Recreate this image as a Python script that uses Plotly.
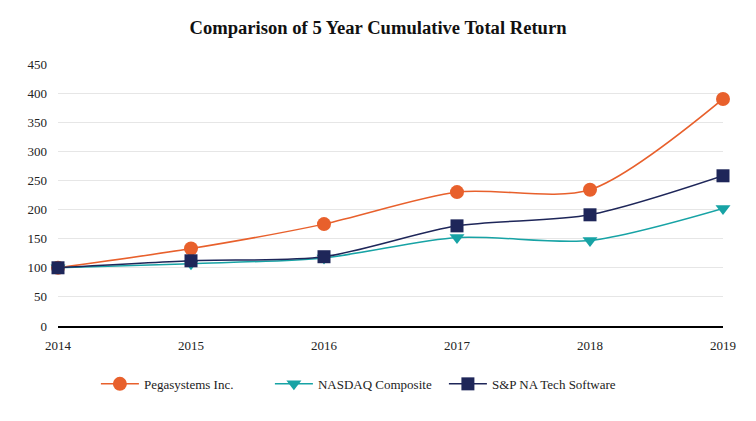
import plotly.graph_objects as go

years = [2014, 2015, 2016, 2017, 2018, 2019]
pega = [100, 133, 175, 230, 234, 390]
nasdaq = [100, 107, 117, 152, 147, 202]
sp_tech = [100, 112, 119, 172, 191, 258]
year_labels = ["2014", "2015", "2016", "2017", "2018", "2019"]

SERIF = "Liberation Serif, Times New Roman, serif"

fig = go.Figure()
series = [
    ("Pegasystems Inc.", pega, "#E8602C", "circle", 14),
    ("NASDAQ Composite", nasdaq, "#17A3A5", "triangle-down", 13),
    ("S&P NA Tech Software", sp_tech, "#1E2659", "square", 13),
]
for name, vals, col, sym, sz in series:
    fig.add_trace(go.Scatter(
        x=years, y=vals, name=name, mode="lines+markers",
        line=dict(color=col, width=1.5, shape="spline", smoothing=0.8),
        marker=dict(color=col, symbol=sym, size=sz),
        cliponaxis=False,
    ))

fig.update_layout(
    width=756, height=421,
    margin=dict(l=50, r=41, t=56, b=103),
    paper_bgcolor="white", plot_bgcolor="white",
    font=dict(family=SERIF, size=13, color="#222"),
    title=dict(text="<b>Comparison of 5 Year Cumulative Total Return</b>",
               x=370 / 756, xanchor="center", xref="container",
               y=1 - 19 / 421, yanchor="middle", yref="container",
               font=dict(family=SERIF, size=18.6, color="#111")),
    showlegend=True,
    legend=dict(orientation="h", x=0.057, xanchor="left", y=-0.221, yanchor="middle",
                font=dict(family=SERIF, size=13, color="#222"), traceorder="normal",
                entrywidth=121, entrywidthmode="pixels", itemwidth=38),
)
fig.update_xaxes(range=[2014, 2019], tickvals=years, ticktext=year_labels,
                 showgrid=False, showline=True, linecolor="black", linewidth=2,
                 ticks="", zeroline=False, ticklabelstandoff=6,
                 tickfont=dict(family=SERIF, size=13, color="#222"))
fig.update_yaxes(range=[0, 450], dtick=50, showgrid=True, gridcolor="#E6E6E6",
                 gridwidth=1, zeroline=False, showline=False, ticks="",
                 ticklabelstandoff=10,
                 tickfont=dict(family=SERIF, size=13, color="#222"))

fig.write_html("out.html")
